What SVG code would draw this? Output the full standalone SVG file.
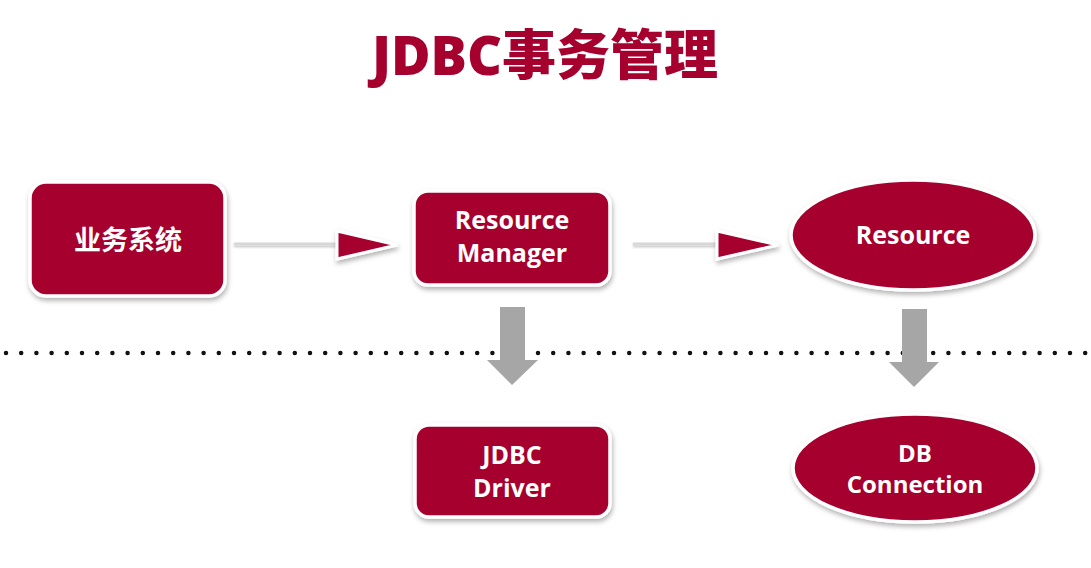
<svg xmlns="http://www.w3.org/2000/svg" width="1091" height="568" viewBox="0 0 1091 568">
  <defs>
    <filter id="shadow" x="-20%" y="-20%" width="140%" height="150%">
      <feDropShadow dx="1" dy="3" stdDeviation="2.5" flood-color="#000" flood-opacity="0.3"/>
    </filter>
    <filter id="lineShadow" x="-5%" y="-100%" width="110%" height="300%">
      <feDropShadow dx="0" dy="1.5" stdDeviation="1" flood-color="#000" flood-opacity="0.25"/>
    </filter>
    <style>
      .node { fill: #a6002f; stroke: #ffffff; stroke-width: 3.5; filter: url(#shadow); }
      .label { fill: #ffffff; font-family: "Open Sans", "Noto Sans", "Liberation Sans", "Noto Sans CJK SC", sans-serif; font-weight: bold; font-size: 25px; text-anchor: middle; }
      .cjk { font-family: "Noto Sans CJK SC", "Noto Sans", sans-serif; font-size: 27px; }
      .title { fill: #a6002f; font-family: "Open Sans", "Noto Sans", "Liberation Sans", "Noto Sans CJK SC", sans-serif; font-weight: 800; font-size: 54px; text-anchor: middle; }
      .link { fill: #d8d8d8; filter: url(#lineShadow); }
      .head { fill: #a6002f; stroke: #ffffff; stroke-width: 3; stroke-linejoin: miter; filter: url(#shadow); }
      .block { fill: #a6a6a6; }
      .dots { stroke: #111; stroke-width: 4.5; stroke-linecap: round; stroke-dasharray: 0 15.2; }
    </style>
  </defs>

  <rect width="1091" height="568" fill="#ffffff"/>

  <text class="title" x="545" y="75">JDBC事务管理</text>

  <!-- layer separator -->
  <line class="dots" x1="6" y1="353" x2="1091" y2="353"/>

  <g id="connectors">
    <!-- 业务系统 -> Resource Manager -->
    <rect class="link" x="234" y="242.5" width="104" height="3"/>
    <polygon class="head" points="337,231 397,245 337,259"/>
    <!-- Resource Manager -> Resource -->
    <rect class="link" x="633" y="242.5" width="85" height="3"/>
    <polygon class="head" points="717,231 778,245 717,259"/>
    <!-- Resource Manager -> JDBC Driver -->
    <polygon class="block" points="500,307 525,307 525,360 538,360 512,385 487,360 500,360"/>
    <!-- Resource -> DB Connection -->
    <polygon class="block" points="902,309 927,309 927,362 939,362 914,387 889,362 902,362"/>
  </g>

  <g id="node-business">
    <rect class="node" x="30" y="182" width="195" height="114" rx="16"/>
    <text class="label cjk" x="128" y="250">业务系统</text>
  </g>

  <g id="node-resource-manager">
    <rect class="node" x="414" y="191" width="196" height="94" rx="14"/>
    <text class="label" x="512" y="229">Resource</text>
    <text class="label" x="512" y="262">Manager</text>
  </g>

  <g id="node-resource">
    <ellipse class="node" cx="913" cy="235" rx="122" ry="55"/>
    <text class="label" x="913" y="244">Resource</text>
  </g>

  <g id="node-jdbc-driver">
    <rect class="node" x="415" y="425" width="195" height="92" rx="14"/>
    <text class="label" x="512" y="464">JDBC</text>
    <text class="label" x="512" y="497">Driver</text>
  </g>

  <g id="node-db-connection">
    <ellipse class="node" cx="915" cy="468" rx="122" ry="54"/>
    <text class="label" x="915" y="462" style="font-size:24px">DB</text>
    <text class="label" x="915" y="493" style="font-size:24px">Connection</text>
  </g>
</svg>
